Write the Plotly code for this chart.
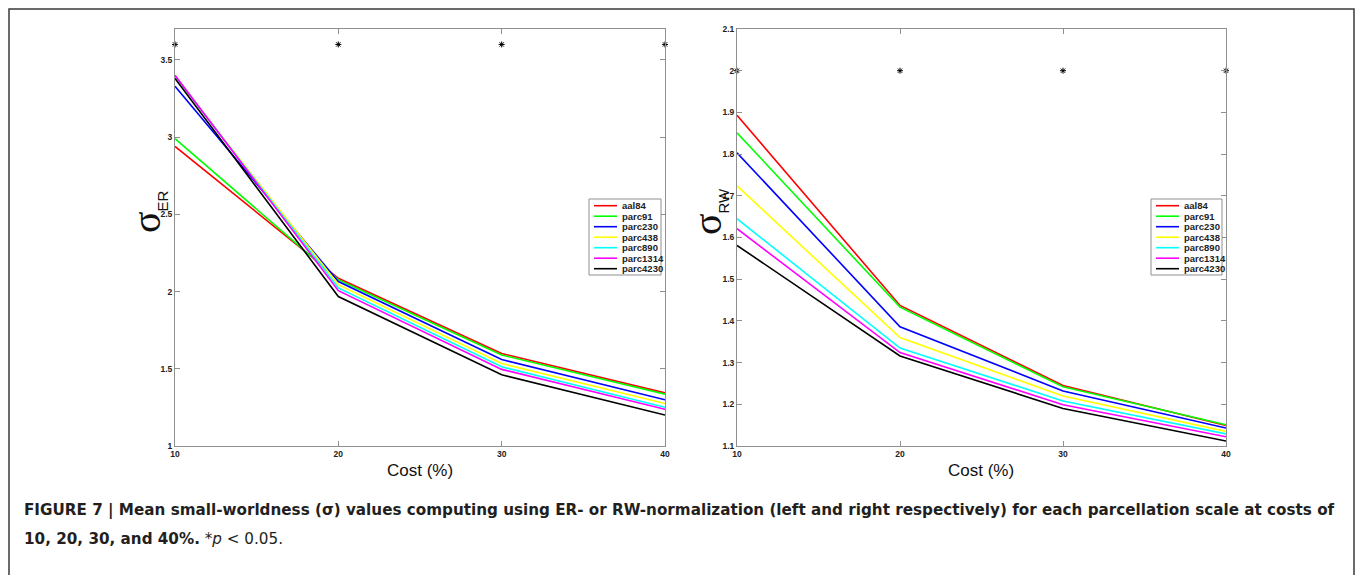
import plotly.graph_objects as go
from plotly.subplots import make_subplots

W, H = 1355, 575

COST = [10, 20, 30, 40]
SERIES = ["aal84", "parc91", "parc230", "parc438", "parc890", "parc1314", "parc4230"]
COLORS = ["#ff0000", "#00ff00", "#0000ff", "#ffff00", "#00ffff", "#ff00ff", "#000000"]

# sigma, ER-normalised (left panel)
er_aal84 = [2.94, 2.086, 1.599, 1.344]
er_parc91 = [2.99, 2.076, 1.589, 1.336]
er_parc230 = [3.33, 2.065, 1.560, 1.299]
er_parc438 = [3.39, 2.045, 1.534, 1.275]
er_parc890 = [3.395, 2.024, 1.513, 1.251]
er_parc1314 = [3.40, 2.006, 1.496, 1.238]
er_parc4230 = [3.38, 1.968, 1.461, 1.201]

# sigma, RW-normalised (right panel)
rw_aal84 = [1.893, 1.437, 1.245, 1.149]
rw_parc91 = [1.851, 1.433, 1.242, 1.151]
rw_parc230 = [1.803, 1.386, 1.232, 1.143]
rw_parc438 = [1.724, 1.360, 1.220, 1.135]
rw_parc890 = [1.645, 1.335, 1.208, 1.129]
rw_parc1314 = [1.621, 1.324, 1.199, 1.122]
rw_parc4230 = [1.581, 1.316, 1.190, 1.112]

# significance markers (*p < 0.05)
STAR_COST = [10, 20, 30, 40]
er_star = [3.6, 3.6, 3.6, 3.6]
rw_star = [2.0, 2.0, 2.0, 2.0]

ER = [er_aal84, er_parc91, er_parc230, er_parc438, er_parc890, er_parc1314, er_parc4230]
RW = [rw_aal84, rw_parc91, rw_parc230, rw_parc438, rw_parc890, rw_parc1314, rw_parc4230]


def px(x):
    return x / W


def py(y):
    return 1 - y / H


fig = make_subplots(rows=1, cols=2)

for col, (panel, stars) in enumerate([(ER, er_star), (RW, rw_star)], start=1):
    for name, color, vals in zip(SERIES, COLORS, panel):
        fig.add_trace(
            go.Scatter(x=COST, y=vals, mode="lines", name=name,
                       line={"color": color, "width": 1.6}, showlegend=False),
            row=1, col=col,
        )
    fig.add_trace(
        go.Scatter(x=STAR_COST, y=stars, mode="markers", showlegend=False, cliponaxis=False,
                   marker={"symbol": "asterisk", "size": 5, "color": "black",
                           "line": {"color": "black", "width": 1}}),
        row=1, col=col,
    )

axis_style = dict(
    showline=True, linecolor="#8f8f8f", linewidth=1, mirror="ticks",
    ticks="inside", ticklen=5, tickcolor="#8f8f8f", showgrid=False, zeroline=False,
    automargin=False,
    tickfont={"family": "Liberation Sans", "size": 8.5, "color": "#222", "weight": "bold"},
)
y_top, y_bot = py(29), py(446)
fig.update_xaxes(axis_style, range=[10, 40], tickvals=COST)
fig.update_layout(
    xaxis={"domain": [px(175), px(665)]},
    xaxis2={"domain": [px(737), px(1226)]},
    yaxis={"domain": [y_bot, y_top], "range": [1, 3.7],
           "tickvals": [1, 1.5, 2, 2.5, 3, 3.5], **axis_style},
    yaxis2={"domain": [y_bot, y_top], "range": [1.1, 2.1],
            "tickvals": [1.1, 1.2, 1.3, 1.4, 1.5, 1.6, 1.7, 1.8, 1.9, 2.0, 2.1], **axis_style},
)

shapes = []
annotations = []

# hand-drawn legends (plotly's legend rows are too tall for this layout)
for box_l, box_r in [(589, 661), (1151, 1222)]:
    shapes.append(dict(type="rect", xref="paper", yref="paper", layer="above",
                       x0=px(box_l), x1=px(box_r), y0=py(275), y1=py(199),
                       line={"color": "#8f8f8f", "width": 1}, fillcolor="white"))
    for i, (name, color) in enumerate(zip(SERIES, COLORS)):
        yy = py(205.7 + i * 10.5)
        shapes.append(dict(type="line", xref="paper", yref="paper", layer="above",
                           x0=px(box_l + 5), x1=px(box_l + 28), y0=yy, y1=yy,
                           line={"color": color, "width": 1.6}))
        annotations.append(dict(xref="paper", yref="paper", x=px(box_l + 31), y=yy,
                                xanchor="left", yanchor="middle", showarrow=False,
                                text=name, font={"family": "Liberation Sans", "size": 9.5,
                                                 "color": "#222", "weight": "bold"}))

# axis titles
for cx in [420, 981]:
    annotations.append(dict(xref="paper", yref="paper", x=px(cx), y=py(470),
                            xanchor="center", yanchor="middle",
                            showarrow=False, text="Cost (%)",
                            font={"family": "Liberation Sans", "size": 17, "color": "#111"}))
for cx, sub in [(147, "ER"), (708, "RW")]:
    annotations.append(dict(
        xref="paper", yref="paper", x=px(cx), y=py(212), textangle=-90, showarrow=False,
        xanchor="center", yanchor="middle",
        text=f"σ<sub><span style='font-size:15px;font-family:Liberation Sans'>{sub}</span></sub>",
        font={"family": "Liberation Serif", "size": 40, "color": "#111"}))

# caption
cap_font = {"family": "DejaVu Sans", "size": 15.2, "color": "#231f20"}
annotations.append(dict(
    xref="paper", yref="paper", x=px(22), y=py(510), xanchor="left", yanchor="middle",
    showarrow=False,
    text="<b>FIGURE 7 | Mean small-worldness (σ) values computing using ER- or RW-normalization "
         "(left and right respectively) for each parcellation scale at costs of</b>",
    font=cap_font))
annotations.append(dict(
    xref="paper", yref="paper", x=px(22), y=py(539), xanchor="left", yanchor="middle",
    showarrow=False,
    text="<b>10, 20, 30, and 40%.</b> *<i>p</i> &lt; 0.05.", font=cap_font))

# outer frame of the figure panel
shapes.append(dict(type="rect", xref="paper", yref="paper", x0=px(9), x1=px(1354),
                   y0=-0.05, y1=py(9), line={"color": "#3a3a3a", "width": 1.5}))

fig.update_layout(
    width=W, height=H,
    margin={"l": 0, "r": 0, "t": 0, "b": 0, "pad": 0, "autoexpand": False},
    paper_bgcolor="white", plot_bgcolor="white",
    showlegend=False,
    shapes=shapes, annotations=annotations,
)
fig.write_html(
    "out.html",
    config={"displayModeBar": False},
    post_script="document.body.style.margin='0';document.body.style.overflow='hidden';",
)
